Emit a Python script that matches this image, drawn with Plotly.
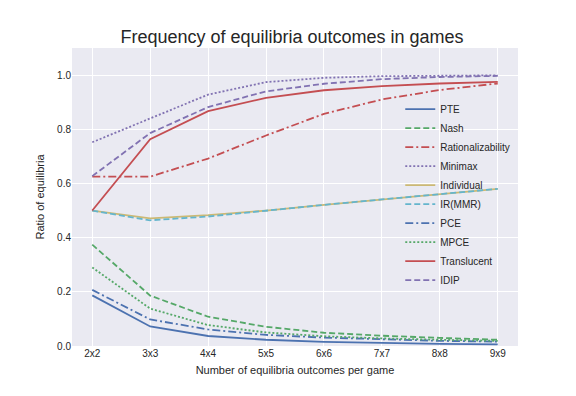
import plotly.graph_objects as go

categories = ["2x2", "3x3", "4x4", "5x5", "6x6", "7x7", "8x8", "9x9"]

pte = [0.187, 0.072, 0.037, 0.023, 0.015, 0.011, 0.008, 0.006]
nash = [0.374, 0.186, 0.108, 0.071, 0.049, 0.038, 0.030, 0.023]
rationalizability = [0.625, 0.625, 0.692, 0.777, 0.857, 0.910, 0.945, 0.969]
minimax = [0.752, 0.841, 0.928, 0.974, 0.990, 0.996, 0.998, 0.999]
individual = [0.500, 0.471, 0.483, 0.500, 0.521, 0.541, 0.561, 0.580]
ir_mmr = [0.500, 0.464, 0.478, 0.500, 0.521, 0.541, 0.561, 0.580]
pce = [0.207, 0.098, 0.061, 0.041, 0.031, 0.024, 0.019, 0.016]
mpce = [0.290, 0.138, 0.077, 0.050, 0.036, 0.028, 0.023, 0.019]
translucent = [0.500, 0.763, 0.867, 0.916, 0.944, 0.959, 0.969, 0.975]
idip = [0.627, 0.786, 0.882, 0.940, 0.968, 0.985, 0.993, 0.997]

y_ticks = [0.0, 0.2, 0.4, 0.6, 0.8, 1.0]

BLUE = "#4C72B0"
GREEN = "#55A868"
RED = "#C44E52"
PURPLE = "#8172B2"
YELLOW = "#CCB974"
CYAN = "#64B5CD"

DASHED = "6px,3px"
DASHDOT = "8px,3px,2px,3px"
DOTTED = "2px,2px"

series = [
    ("PTE", pte, BLUE, "solid"),
    ("Nash", nash, GREEN, DASHED),
    ("Rationalizability", rationalizability, RED, DASHDOT),
    ("Minimax", minimax, PURPLE, DOTTED),
    ("Individual", individual, YELLOW, "solid"),
    ("IR(MMR)", ir_mmr, CYAN, DASHED),
    ("PCE", pce, BLUE, DASHDOT),
    ("MPCE", mpce, GREEN, DOTTED),
    ("Translucent", translucent, RED, "solid"),
    ("IDIP", idip, PURPLE, DASHED),
]

fig = go.Figure()
x_idx = list(range(len(categories)))
for name, vals, color, dash in series:
    fig.add_trace(go.Scatter(
        x=x_idx, y=vals, mode="lines", name=name,
        line=dict(color=color, width=1.8, dash=dash),
    ))

font_family = "Liberation Sans, Arial, sans-serif"
fig.update_layout(
    width=568, height=388,
    margin=dict(l=64, r=58, t=40, b=50),
    paper_bgcolor="white",
    plot_bgcolor="#EAEAF2",
    font=dict(family=font_family, color="#262626", size=10),
    title=dict(text="Frequency of equilibria outcomes in games",
               x=0.5, xanchor="center", y=0.925, yanchor="middle",
               font=dict(size=18, color="#262626")),
    showlegend=True,
    legend=dict(x=0.736, xanchor="left", y=0.508, yanchor="middle",
                bgcolor="rgba(0,0,0,0)", borderwidth=0,
                font=dict(size=10, color="#262626"),
                tracegroupgap=0),
)
fig.update_xaxes(
    range=[-0.35, 7.35], tickmode="array", tickvals=x_idx, ticktext=categories,
    showgrid=True, gridcolor="white", gridwidth=1, zeroline=False,
    showline=False, ticks="", tickfont=dict(size=10, color="#262626"),
    title=dict(text="Number of equilibria outcomes per game", font=dict(size=11), standoff=8),
)
fig.update_yaxes(
    range=[0, 1.1], tickmode="array", tickvals=y_ticks,
    ticktext=[f"{v:.1f}" for v in y_ticks],
    showgrid=True, gridcolor="white", gridwidth=1, zeroline=False,
    showline=False, ticks="", tickfont=dict(size=10, color="#262626"),
    title=dict(text="Ratio of equilibria", font=dict(size=11), standoff=10),
)

fig.write_html("out.html")
